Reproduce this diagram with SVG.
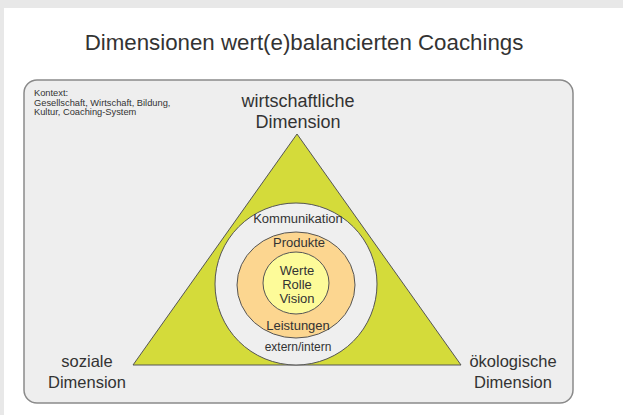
<svg xmlns="http://www.w3.org/2000/svg" width="623" height="415" viewBox="0 0 623 415">
<style>
text{font-family:"Liberation Sans",Arial,sans-serif;fill:#333;text-anchor:middle}
.dim{font-size:16.5px}
.top{font-size:18px}
.in{font-size:13px}
.ctx{font-size:9.3px;text-anchor:start}
.ln{stroke:#555;stroke-width:1}
</style>
<rect x="0" y="0" width="623" height="415" fill="#e8e8e8"/>
<rect x="4" y="8" width="619" height="407" fill="#ffffff"/>
<g id="title"><text x="304" y="50" style="font-size:22.3px">Dimensionen wert(e)balancierten Coachings</text></g>
<g id="kontext">
<rect x="24" y="80" width="549" height="323" rx="13" fill="#eeeeee" stroke="#8a8a8a" stroke-width="1.5"/>
<text class="ctx" x="34" y="96">Kontext:</text>
<text class="ctx" x="34" y="105.5">Gesellschaft, Wirtschaft, Bildung,</text>
<text class="ctx" x="34" y="115">Kultur, Coaching-System</text>
</g>
<g id="dreieck"><polygon class="ln" points="297,134 461,365 133,365" fill="#d4db3a"/></g>
<g id="kommunikation"><ellipse class="ln" cx="296" cy="284" rx="81" ry="81" fill="#efefef"/>
<text class="in" x="298" y="223">Kommunikation</text>
<text x="298" y="351" style="font-size:12px">extern/intern</text></g>
<g id="produkte"><ellipse class="ln" cx="296" cy="285" rx="59" ry="53" fill="#fcd690"/>
<text class="in" x="299" y="247">Produkte</text>
<text class="in" x="298" y="330">Leistungen</text></g>
<g id="werte"><ellipse class="ln" cx="296" cy="283" rx="33" ry="31" fill="#fdfb99"/>
<text class="in" x="297" y="275">Werte</text>
<text class="in" x="297" y="289">Rolle</text>
<text class="in" x="297" y="303">Vision</text></g>
<g id="wirtschaftlich"><text class="top" x="298" y="107">wirtschaftliche</text><text class="top" x="298" y="128">Dimension</text></g>
<g id="sozial"><text class="dim" x="87" y="367">soziale</text><text class="dim" x="87" y="388">Dimension</text></g>
<g id="oekologisch"><text class="dim" x="513" y="367">ökologische</text><text class="dim" x="513" y="388">Dimension</text></g>
<g id="connectors"/>
</svg>
